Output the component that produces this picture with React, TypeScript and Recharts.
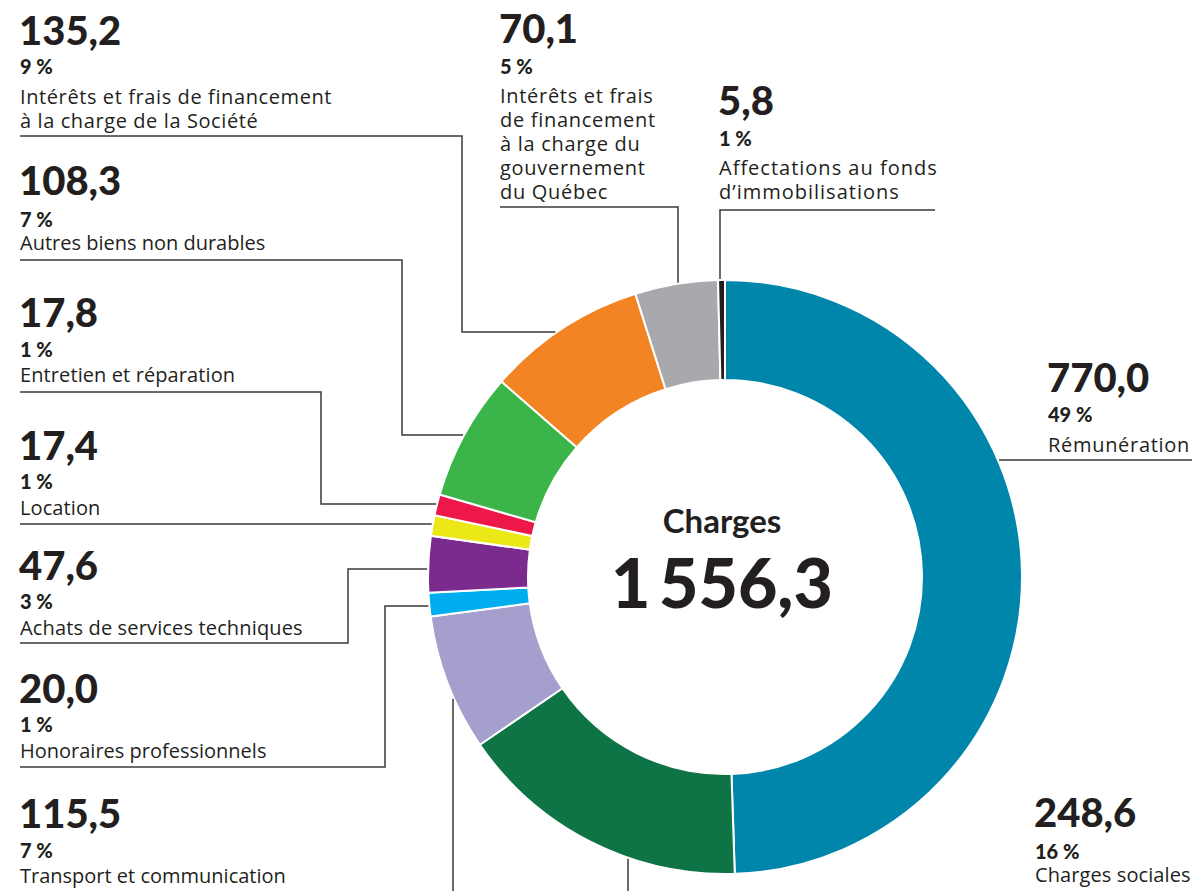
import React from 'react';
import { PieChart, Pie, Cell } from 'recharts';

const categories = [
  'Rémunération',
  'Charges sociales',
  'Transport et communication',
  'Honoraires professionnels',
  'Achats de services techniques',
  'Location',
  'Entretien et réparation',
  'Autres biens non durables',
  'Intérêts et frais de financement à la charge de la Société',
  'Intérêts et frais de financement à la charge du gouvernement du Québec',
  'Affectations au fonds d’immobilisations',
];
const values = [770.0, 248.6, 115.5, 20.0, 47.6, 17.4, 17.8, 108.3, 135.2, 70.1, 5.8];
const percents = ['49 %', '16 %', '7 %', '1 %', '3 %', '1 %', '1 %', '7 %', '9 %', '5 %', '1 %'];
const labelLines = [
  ['Rémunération'],
  ['Charges sociales'],
  ['Transport et communication'],
  ['Honoraires professionnels'],
  ['Achats de services techniques'],
  ['Location'],
  ['Entretien et réparation'],
  ['Autres biens non durables'],
  ['Intérêts et frais de financement', 'à la charge de la Société'],
  ['Intérêts et frais', 'de financement', 'à la charge du', 'gouvernement', 'du Québec'],
  ['Affectations au fonds', 'd’immobilisations'],
];
const colors = [
  '#0085AB', '#0E7345', '#A59FCD', '#00AEEF', '#7B2A8E', '#ECE717',
  '#ED1849', '#3BB54A', '#F38423', '#A7A9AC', '#231F20',
];
const centerTitle = 'Charges';

const W = 1196;
const H = 891;
const CX = 725;
const CY = 577;
const R_OUT = 297;
const R_IN = 197;
const INK = '#231F20';
const LINE = '#3a3a3a';

const fmt = (v: number) => v.toFixed(1).replace('.', ',');
const fmtTotal = (v: number) => {
  const [i, d] = v.toFixed(1).split('.');
  return i.replace(/\B(?=(\d{3})+(?!\d))/g, '\u2009') + ',' + d;
};

// point just outside the ring for a given x or y
const ring = (axis: 'x' | 'y', at: number, side: number): [number, number] => {
  const r = R_OUT + 1;
  if (axis === 'y') {
    const dy = at - CY;
    return [CX + side * Math.sqrt(r * r - dy * dy), at];
  }
  const dx = at - CX;
  return [at, CY + side * Math.sqrt(r * r - dx * dx)];
};

type Layout = { x: number; vY: number; pY: number; tY: number; ls: number; path: [number, number][] };

const layout: Layout[] = [
  { x: 1048, vY: 392, pY: 422, tY: 452, ls: 0.7, path: [ring('y', 460, 1), [1192, 460]] },
  { x: 1035, vY: 827, pY: 859, tY: 882, ls: 0.1, path: [ring('x', 628, 1), [628, 891]] },
  { x: 20, vY: 828, pY: 858, tY: 883, ls: 0, path: [ring('x', 453, 1), [453, 891]] },
  { x: 20, vY: 703, pY: 732, tY: 758, ls: 0, path: [[20, 767], [385, 767], [385, 606], ring('y', 606, -1)] },
  { x: 20, vY: 580, pY: 609, tY: 635, ls: 0.15, path: [[20, 643], [348, 643], [348, 569], ring('y', 569, -1)] },
  { x: 20, vY: 460, pY: 489, tY: 515, ls: 0.1, path: [[20, 524], ring('y', 524, -1)] },
  { x: 20, vY: 327, pY: 357, tY: 382, ls: 0.1, path: [[20, 392], [321, 392], [321, 504], ring('y', 504, -1)] },
  { x: 20, vY: 195, pY: 227, tY: 250, ls: 0, path: [[20, 260], [402, 260], [402, 435], ring('y', 435, -1)] },
  { x: 20, vY: 45, pY: 74, tY: 104, ls: 0.6, path: [[20, 136], [462, 136], [462, 332], ring('y', 332, -1)] },
  { x: 500, vY: 43, pY: 74, tY: 103, ls: 0.7, path: [[500, 207], [678, 207], ring('x', 678, -1)] },
  { x: 719, vY: 115, pY: 146, tY: 175, ls: 1, path: [[935, 210], [720, 210], ring('x', 720, -1)] },
];

const data = categories.map((name, i) => ({ name, value: values[i] }));
const total = values.reduce((a, b) => a + b, 0);

const numFont = 'Lato, "Open Sans", sans-serif';
const bodyFont = '"Open Sans", "Noto Sans", sans-serif';

export default function App() {
  return (
    <div style={{ position: 'absolute', left: 0, top: 0, width: W, height: H, background: '#fff' }}>
      <PieChart width={W} height={H} margin={{ top: 0, right: 0, bottom: 0, left: 0 }}>
        <Pie
          data={data}
          dataKey="value"
          nameKey="name"
          cx={CX}
          cy={CY}
          innerRadius={R_IN}
          outerRadius={R_OUT}
          startAngle={90}
          endAngle={-270}
          stroke="#fff"
          strokeWidth={2}
          isAnimationActive={false}
        >
          {data.map((d, i) => (
            <Cell key={d.name} fill={colors[i]} />
          ))}
        </Pie>
      </PieChart>
      <svg width={W} height={H} style={{ position: 'absolute', left: 0, top: 0, pointerEvents: 'none' }}>
        {layout.map((l, i) => (
          <g key={categories[i]}>
            <polyline
              points={l.path.map((p) => p.join(',')).join(' ')}
              fill="none"
              stroke={LINE}
              strokeWidth={1.5}
            />
            <text x={l.x - 1} y={l.vY} fontFamily={numFont} fontWeight={900} fontSize={40} fill={INK}>
              {fmt(values[i])}
            </text>
            <text x={l.x} y={l.pY} fontFamily={numFont} fontWeight={900} fontSize={20} fill={INK}>
              {percents[i]}
            </text>
            {labelLines[i].map((line, j) => (
              <text
                key={j}
                x={l.x}
                y={l.tY + j * 24}
                fontFamily={bodyFont}
                fontSize={20}
                letterSpacing={l.ls}
                fill={INK}
              >
                {line}
              </text>
            ))}
          </g>
        ))}
        <text x={722} y={533} textAnchor="middle" fontFamily={numFont} fontWeight={700} fontSize={33} fill={INK}>
          {centerTitle}
        </text>
        <text x={722} y={608} textAnchor="middle" fontFamily={numFont} fontWeight={900} fontSize={68} fill={INK}>
          {fmtTotal(total)}
        </text>
      </svg>
    </div>
  );
}
